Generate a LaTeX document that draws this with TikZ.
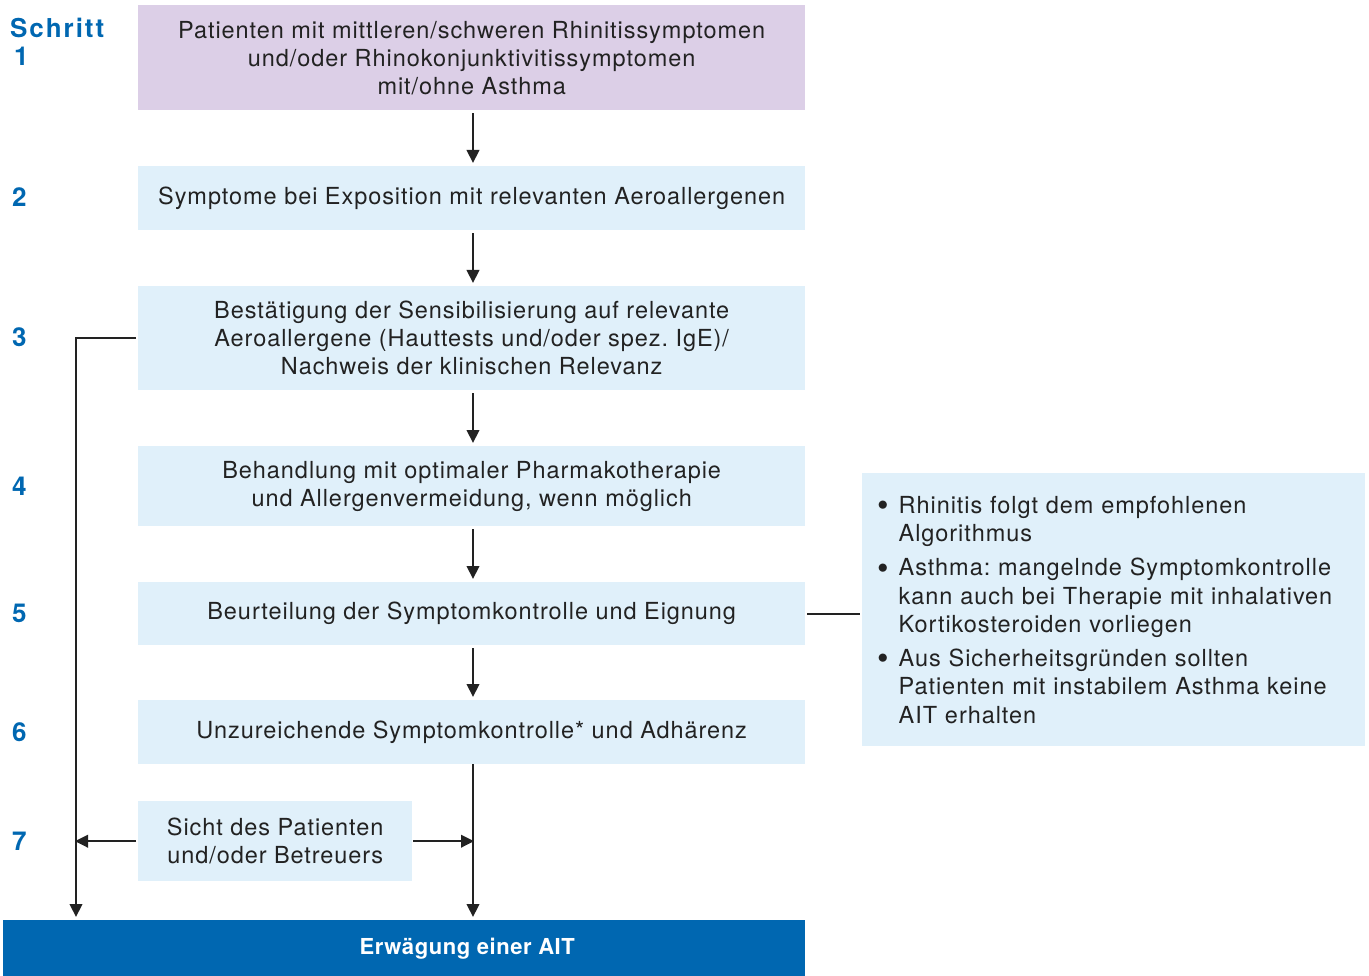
\documentclass[tikz,border=0pt]{standalone}
\usepackage{fontspec}
\setmainfont[LetterSpace=4]{TeX Gyre Heros}
\newfontfamily\botfont[LetterSpace=2.5]{TeX Gyre Heros}
\newfontfamily\stepfont[LetterSpace=7.5]{TeX Gyre Heros}
\usetikzlibrary{arrows.meta}
\definecolor{lightbox}{HTML}{E0F0FA}
\definecolor{purplebox}{HTML}{DCCFE7}
\definecolor{mainblue}{HTML}{0067B1}
\definecolor{txt}{HTML}{222222}
\newcommand\mybullet{\raisebox{-3.5pt}{\scalebox{1.4}{\textbullet}}}
\frenchspacing
\begin{document}
\begin{tikzpicture}[x=1pt,y=-1pt,
  box/.style={fill=lightbox, draw=none, anchor=north west, align=center, text=txt,
    font=\fontsize{23.5}{28}\selectfont, inner sep=0pt},
  stepnum/.style={text=mainblue, font=\stepfont\fontsize{26}{27}\selectfont\bfseries, anchor=base west, inner sep=0pt},
  arr/.style={draw=txt, line width=2.2pt, -{Triangle[width=12.5pt,length=13pt]}},
  ln/.style={draw=txt, line width=2.2pt}
]
\useasboundingbox (0,0) rectangle (1369,976);
\node[box, fill=purplebox, minimum width=667pt, minimum height=105pt] (b1) at (138,5)
  {Patienten mit mittleren/schweren Rhinitissymptomen\\und/oder Rhinokonjunktivitissymptomen\\mit/ohne Asthma};
\node[box, minimum width=667pt, minimum height=64pt] (b2) at (138,166)
  {Symptome bei Exposition mit relevanten Aeroallergenen};
\node[box, minimum width=667pt, minimum height=104pt] (b3) at (138,286)
  {Bestätigung der Sensibilisierung auf relevante\\Aeroallergene (Hauttests und/oder spez. IgE)/\\Nachweis der klinischen Relevanz};
\node[box, minimum width=667pt, minimum height=80pt] (b4) at (138,446)
  {Behandlung mit optimaler Pharmakotherapie\\und Allergenvermeidung, wenn möglich};
\node[box, minimum width=667pt, minimum height=63pt] (b5) at (138,582)
  {Beurteilung der Symptomkontrolle und Eignung};
\node[box, minimum width=667pt, minimum height=64pt] (b6) at (138,700)
  {Unzureichende Symptomkontrolle* und Adhärenz};
\node[box, minimum width=274pt, minimum height=80pt] (b7) at (138,801)
  {Sicht des Patienten\\und/oder Betreuers};
\node[box, fill=mainblue, text=white, font=\botfont\fontsize{22}{28}\selectfont\bfseries,
  minimum width=802pt, minimum height=56pt] (b8) at (3,920) {\hspace*{126pt}Erwägung einer AIT};
\node[box, minimum width=503pt, minimum height=273pt, align=left, inner xsep=15pt,
  text width=473pt] (side) at (862,473)
  {\fontsize{23.5}{28.6}\selectfont
   \raisebox{-3pt}[\height][\depth]{%
   \begin{tabular}{@{}l@{\hspace{10pt}}l@{}}
   \mybullet & Rhinitis folgt dem empfohlenen\\
    & Algorithmus\\[5pt]
   \mybullet & Asthma: mangelnde Symptomkontrolle\\
    & kann auch bei Therapie mit inhalativen\\
    & Kortikosteroiden vorliegen\\[5pt]
   \mybullet & Aus Sicherheitsgründen sollten\\
    & Patienten mit instabilem Asthma keine\\
    & AIT erhalten
   \end{tabular}}};
% step labels
\node[stepnum] (s0) at (10,38) {Schritt};
\node[stepnum] (s1) at (14,66) {1};
\node[stepnum] (s2) at (12,207) {2};
\node[stepnum] (s3) at (12,347) {3};
\node[stepnum] (s4) at (12,495) {4};
\node[stepnum] (s5) at (12,622) {5};
\node[stepnum] (s6) at (12,741) {6};
\node[stepnum] (s7) at (12,850) {7};
% coordinates
\coordinate (ax) at (473,0);
\coordinate (lx) at (76,0);
% main arrows
\draw[arr, shorten <=3pt, shorten >=3pt] (b1.south -| ax) -- (b2.north -| ax);
\draw[arr, shorten <=3pt, shorten >=3pt] (b2.south -| ax) -- (b3.north -| ax);
\draw[arr, shorten <=3pt, shorten >=3pt] (b3.south -| ax) -- (b4.north -| ax);
\draw[arr, shorten <=3pt, shorten >=3pt] (b4.south -| ax) -- (b5.north -| ax);
\draw[arr, shorten <=3pt, shorten >=3pt] (b5.south -| ax) -- (b6.north -| ax);
\draw[arr, shorten >=3pt] (b6.south -| ax) -- (b8.north -| ax);
% left branch
\draw[arr, shorten <=2pt, shorten >=3pt] (b3.west) -- (b3.west -| lx) -- (b8.north -| lx);
\draw[arr, shorten <=2pt, shorten >=-1pt] (b7.west) -- (b7.west -| lx);
\draw[arr, shorten <=1pt, shorten >=-1pt] (b7.east) -- (b7.east -| ax);
% side connector
\draw[ln, shorten <=2pt, shorten >=2pt] (b5.east) -- (b5.east -| side.west);
\end{tikzpicture}
\end{document}
